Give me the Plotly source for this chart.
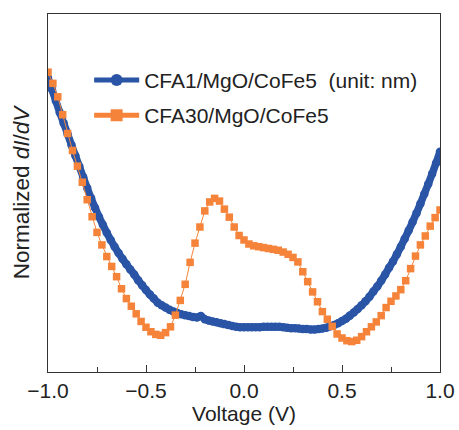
import numpy as np
import plotly.graph_objects as go

# Bias voltage grids (V)
voltage_cfa1 = np.round(np.linspace(-1.0, 1.0, 101), 3)
voltage_cfa30 = np.round(np.linspace(-1.0, 1.0, 81), 3)

# Normalized dI/dV, CFA1/MgO/CoFe5 (0.02 V steps)
didv_cfa1 = [
    6.57, 6.32, 6.06, 5.80, 5.56, 5.32, 5.07, 4.83, 4.59, 4.35,
    4.11, 3.88, 3.67, 3.47, 3.29, 3.11, 2.95, 2.80, 2.66, 2.53,
    2.41, 2.29, 2.18, 2.05, 1.94, 1.83, 1.73, 1.64, 1.55, 1.49,
    1.44, 1.39, 1.35, 1.32, 1.29, 1.27, 1.25, 1.23, 1.22, 1.25,
    1.18, 1.15, 1.13, 1.11, 1.09, 1.07, 1.05, 1.03, 1.01, 1.00,
    1.00, 1.00, 1.00, 1.00, 1.00, 1.01, 1.01, 1.01, 1.01, 1.01,
    1.00, 0.99, 0.98, 0.98, 0.97, 0.96, 0.96, 0.95, 0.95, 0.96,
    0.97, 0.99, 1.02, 1.05, 1.09, 1.14, 1.19, 1.26, 1.33, 1.41,
    1.49, 1.58, 1.68, 1.80, 1.91, 2.04, 2.18, 2.33, 2.47, 2.63,
    2.80, 2.98, 3.16, 3.35, 3.55, 3.76, 3.98, 4.20, 4.43, 4.67,
    4.92, 5.18,
][:101]

# Normalized dI/dV, CFA30/MgO/CoFe5 (0.025 V steps)
didv_cfa30 = [
    6.70, 6.45, 6.15, 5.75, 5.33, 4.95, 4.60, 4.24, 3.85, 3.47,
    3.12, 2.84, 2.58, 2.36, 2.13, 1.86, 1.64, 1.47, 1.30, 1.13,
    1.00, 0.90, 0.84, 0.82, 0.88, 1.01, 1.27, 1.60, 1.96, 2.45,
    2.88, 3.24, 3.60, 3.80, 3.88, 3.82, 3.64, 3.46, 3.24, 3.05,
    2.95, 2.86, 2.82, 2.80, 2.78, 2.76, 2.74, 2.72, 2.68, 2.63,
    2.56, 2.46, 2.24, 2.02, 1.79, 1.57, 1.35, 1.18, 1.02, 0.85,
    0.76, 0.70, 0.68, 0.71, 0.79, 0.90, 1.01, 1.12, 1.26, 1.44,
    1.58, 1.70, 1.84, 2.04, 2.31, 2.59, 2.84, 3.04, 3.26, 3.45,
    3.62,
]

series_names = ["CFA1/MgO/CoFe5  (unit: nm)", "CFA30/MgO/CoFe5"]
x_ticks = [-1.0, -0.5, 0.0, 0.5, 1.0]

BLUE = "#2a55a6"
ORANGE = "#f5843a"
AXIS = "#333333"
FONT = "Liberation Sans, Arial, sans-serif"

fig = go.Figure()
# dense CFA1 sweep: a thick band under the circle markers
fig.add_trace(go.Scatter(
    x=voltage_cfa1, y=didv_cfa1, mode="lines", showlegend=False, hoverinfo="skip",
    line=dict(color=BLUE, width=7.5, shape="spline", smoothing=0.6),
))
fig.add_trace(go.Scatter(
    x=voltage_cfa1, y=didv_cfa1, name=series_names[0], mode="lines+markers",
    line=dict(color=BLUE, width=1),
    marker=dict(symbol="circle", size=8.5, color=BLUE),
    legendgroup="a",
))
fig.add_trace(go.Scatter(
    x=voltage_cfa30, y=didv_cfa30, name=series_names[1], mode="lines+markers",
    line=dict(color=ORANGE, width=1),
    marker=dict(symbol="square", size=7.5, color=ORANGE),
    legendgroup="b",
))

fig.update_layout(
    width=459, height=430,
    margin=dict(l=48, r=19, t=14, b=58, autoexpand=False),
    paper_bgcolor="white", plot_bgcolor="white",
    font=dict(family=FONT, color="#222222", size=21),
    showlegend=True,
    legend=dict(
        x=0.105, y=0.872, xanchor="left", yanchor="top",
        bgcolor="rgba(0,0,0,0)", borderwidth=0,
        font=dict(size=21, color="#222222"),
        itemsizing="constant", itemwidth=45,
        traceorder="grouped", tracegroupgap=5,
    ),
    xaxis=dict(
        range=[-1.0, 1.0], tickvals=x_ticks, tickformat=".1f",
        ticks="inside", ticklen=7, tickwidth=1.2, tickcolor=AXIS,
        minor=dict(dtick=0.25, ticks="inside", ticklen=5, tickwidth=1.2, tickcolor=AXIS),
        showline=True, linecolor=AXIS, linewidth=1.4, mirror=True,
        showgrid=False, zeroline=False, automargin=False,
        tickfont=dict(size=21),
        title=dict(text="Voltage (V)", font=dict(size=21), standoff=4),
    ),
    yaxis=dict(
        range=[0, 8], showticklabels=False, ticks="",
        showline=True, linecolor=AXIS, linewidth=1.4, mirror=True,
        showgrid=False, zeroline=False, automargin=False,
        title=dict(text="Normalized <i>dI</i>/<i>dV</i>", font=dict(size=22.5), standoff=10),
    ),
)

fig.write_html("out.html")
